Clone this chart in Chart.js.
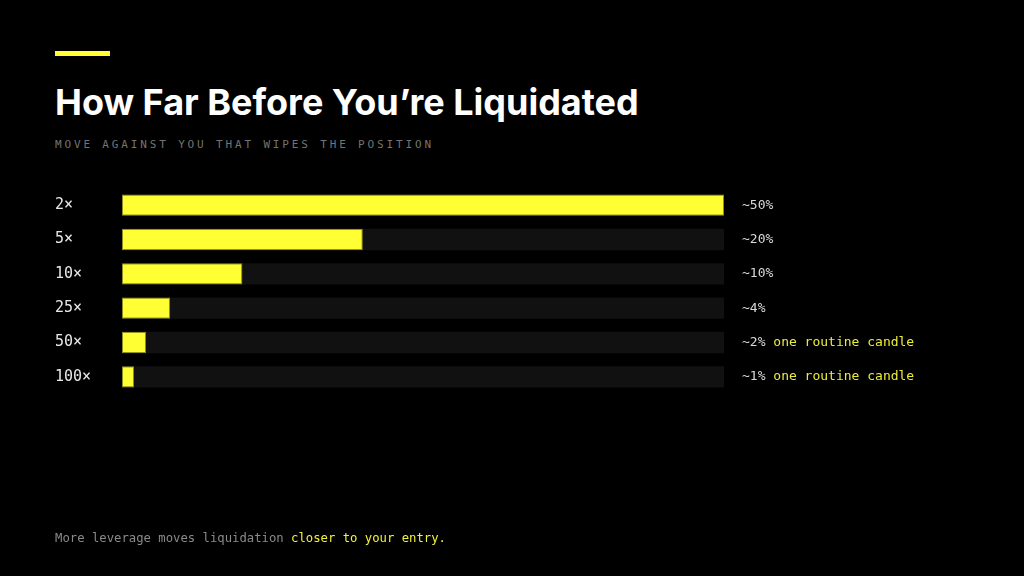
<!DOCTYPE html>
<html>
<head>
<meta charset="utf-8">
<script src="https://cdn.jsdelivr.net/npm/chart.js@4.4.1/dist/chart.umd.min.js"></script>
<style>
  html, body { margin: 0; padding: 0; background: #000; }
  body { width: 1024px; height: 576px; position: relative; overflow: hidden; }
  .accent { position: absolute; left: 55px; top: 51px; width: 55px; height: 5px; background: #ffff33; }
  h1 { position: absolute; left: 55px; top: 80px; margin: 0; font-family: Inter, "Noto Sans", sans-serif; font-weight: 700; font-size: 36px; color: #fff; letter-spacing: 0; }
  .sub { position: absolute; left: 55px; top: 138px; font-family: "DejaVu Sans Mono", monospace; font-size: 11px; letter-spacing: 2.85px; color: #747474; }
  .foot { position: absolute; left: 55px; top: 531px; font-family: "DejaVu Sans Mono", monospace; font-size: 12.25px; color: #8a8a8a; }
  .foot span { color: #f2f23a; }
  canvas { position: absolute; left: 0; top: 0; }
</style>
</head>
<body>
<div class="accent"></div>
<h1>How Far Before You’re Liquidated</h1>
<div class="sub">MOVE AGAINST YOU THAT WIPES THE POSITION</div>
<canvas id="chart" width="1024" height="576"></canvas>
<div class="foot">More leverage moves liquidation <span>closer to your entry.</span></div>
<script>
// leverage levels and the price move that liquidates each one
const leverage = ['2×', '5×', '10×', '25×', '50×', '100×'];
const movePct = [50, 20, 10, 4, 2, 1];
const notes = ['', '', '', '', 'one routine candle', 'one routine candle'];
const scaleMax = 50;
const track = leverage.map(() => scaleMax);

const monoFont = '"DejaVu Sans Mono", monospace';

// value labels to the right of each track
const valueLabels = {
    id: 'valueLabels',
    afterDatasetsDraw(chart) {
        const ctx = chart.ctx;
        const meta = chart.getDatasetMeta(0);
        const x0 = chart.chartArea.right + 18;
        ctx.save();
        ctx.font = '13px ' + monoFont;
        ctx.textBaseline = 'middle';
        meta.data.forEach(function (bar, i) {
            const txt = '~' + movePct[i] + '%';
            ctx.fillStyle = '#d8d8d8';
            ctx.fillText(txt, x0, bar.y);
            if (notes[i]) {
                const w = ctx.measureText(txt + ' ').width;
                ctx.fillStyle = '#ecec3a';
                ctx.fillText(notes[i], x0 + w, bar.y);
            }
        });
        ctx.restore();
    }
};

new Chart(document.getElementById('chart'), {
    type: 'bar',
    data: {
        labels: leverage,
        datasets: [{
            data: movePct,
            backgroundColor: '#ffff33',
            borderColor: '#8f8f1e',
            borderWidth: 1,
            borderSkipped: false,
            order: 0
        }, {
            data: track,
            backgroundColor: '#111111',
            borderWidth: 0,
            order: 1
        }]
    },
    options: {
        indexAxis: 'y',
        responsive: false,
        animation: false,
        grouped: false,
        barPercentage: 1,
        categoryPercentage: 0.62,
        layout: { padding: { left: 55, right: 300, top: 188, bottom: 182 } },
        plugins: { legend: { display: false }, tooltip: { enabled: false } },
        scales: {
            x: { display: false, min: 0, max: scaleMax },
            y: {
                grid: { display: false },
                border: { display: false },
                afterFit: function (scale) { scale.width = 67; },
                ticks: {
                    crossAlign: 'far',
                    color: '#e8e8e8',
                    font: { family: monoFont, size: 15 }
                }
            }
        }
    },
    plugins: [valueLabels]
});
</script>
</body>
</html>
